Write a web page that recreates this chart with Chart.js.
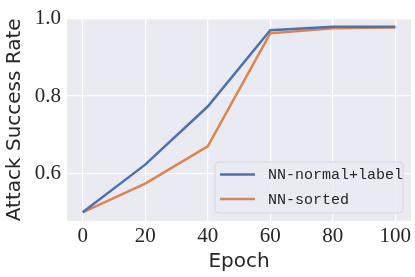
<!DOCTYPE html>
<html>
<head>
<meta charset="utf-8">
<script src="https://cdn.jsdelivr.net/npm/chart.js@4/dist/chart.umd.min.js"></script>
<style>
  html, body { margin: 0; padding: 0; background: #ffffff; }
  #wrap { width: 415px; height: 277px; }
</style>
</head>
<body>
<div id="wrap"><canvas id="lineChart" width="415" height="277"></canvas></div>
<script>
// Data
const epochs = [0, 20, 40, 60, 80, 100];
const normalLabel = [0.500, 0.623, 0.773, 0.970, 0.979, 0.979];
const sorted = [0.500, 0.574, 0.670, 0.962, 0.975, 0.977];
const seriesNames = ['NN-normal+label', 'NN-sorted'];
const xTicks = [0, 20, 40, 60, 80, 100];
const yTicks = [0.6, 0.8, 1.0];

// Paint the seaborn-like grey plot background
const plotBackground = {
    id: 'plotBackground',
    beforeDraw(chart) {
        const { ctx, chartArea } = chart;
        ctx.save();
        ctx.fillStyle = '#eaeaf2';
        ctx.fillRect(chartArea.left, chartArea.top, chartArea.width, chartArea.height);
        ctx.restore();
    }
};

// Legend box drawn inside the lower right corner of the plot
const boxLegend = {
    id: 'boxLegend',
    afterDatasetsDraw(chart) {
        const { ctx, chartArea } = chart;
        const w = 188, h = 51;
        const x = chartArea.right - 8 - w;
        const y = chartArea.bottom - 8 - h;
        ctx.save();
        ctx.beginPath();
        ctx.roundRect(x, y, w, h, 4);
        ctx.fillStyle = 'rgba(234, 234, 242, 0.8)';
        ctx.fill();
        ctx.strokeStyle = '#d4d4dc';
        ctx.lineWidth = 1;
        ctx.stroke();
        ctx.font = "15px 'Liberation Mono', monospace";
        ctx.textBaseline = 'middle';
        chart.data.datasets.forEach((ds, i) => {
            const rowY = y + 12.5 + i * 24.5;
            ctx.strokeStyle = ds.borderColor;
            ctx.lineWidth = 2.5;
            ctx.beginPath();
            ctx.moveTo(x + 5, rowY);
            ctx.lineTo(x + 40, rowY);
            ctx.stroke();
            ctx.fillStyle = '#262626';
            ctx.fillText(ds.label, x + 53, rowY + 1);
        });
        ctx.restore();
    }
};

const ctx = document.getElementById('lineChart').getContext('2d');

new Chart(ctx, {
    type: 'line',
    data: {
        datasets: [
            {
                label: seriesNames[0],
                data: epochs.map((e, i) => ({ x: e, y: normalLabel[i] })),
                borderColor: '#4c72b0',
                borderWidth: 2.5,
                pointRadius: 0,
                tension: 0,
                fill: false
            },
            {
                label: seriesNames[1],
                data: epochs.map((e, i) => ({ x: e, y: sorted[i] })),
                borderColor: '#dd8452',
                borderWidth: 2.5,
                pointRadius: 0,
                tension: 0,
                fill: false
            }
        ]
    },
    options: {
        responsive: false,
        animation: false,
        layout: {
            padding: { top: 14, right: 4, left: 0, bottom: 0 }
        },
        plugins: {
            legend: { display: false },
            tooltip: { enabled: false }
        },
        scales: {
            x: {
                type: 'linear',
                min: -5,
                max: 105,
                border: { display: false },
                grid: { color: '#ffffff', lineWidth: 1.2, drawTicks: false },
                afterBuildTicks: scale => { scale.ticks = xTicks.map(v => ({ value: v })); },
                afterFit: scale => { scale.height = 56; },
                ticks: {
                    color: '#262626',
                    padding: 3,
                    maxRotation: 0,
                    font: { family: "'Liberation Serif', serif", size: 21 },
                    callback: v => String(v)
                },
                title: {
                    display: true,
                    text: 'Epoch',
                    color: '#262626',
                    padding: { top: 0, bottom: 3 },
                    font: { family: "'DejaVu Sans', sans-serif", size: 20 }
                }
            },
            y: {
                min: 0.4775,
                max: 1.0,
                border: { display: false },
                grid: { color: '#ffffff', lineWidth: 1.2, drawTicks: false },
                afterBuildTicks: scale => { scale.ticks = yTicks.map(v => ({ value: v })); },
                afterFit: scale => { scale.width = 67; },
                ticks: {
                    color: '#262626',
                    padding: 6,
                    font: { family: "'Liberation Serif', serif", size: 21 },
                    callback: v => v.toFixed(1)
                },
                title: {
                    display: true,
                    text: 'Attack Success Rate',
                    color: '#262626',
                    padding: { top: 3, bottom: 0 },
                    font: { family: "'DejaVu Sans', sans-serif", size: 20 }
                }
            }
        }
    },
    plugins: [plotBackground, boxLegend]
});
</script>
</body>
</html>
